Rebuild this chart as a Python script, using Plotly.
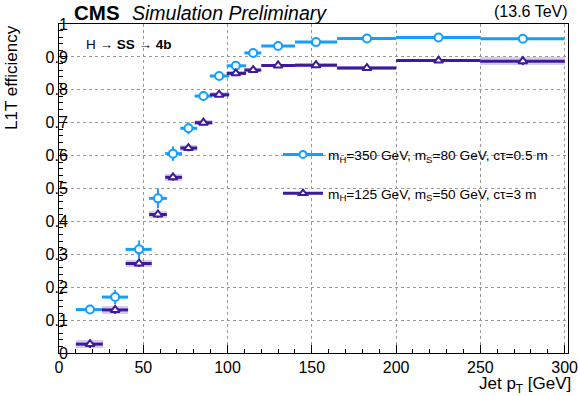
import plotly.graph_objects as go

# ---- data ----
pt_mean = [18.4, 33.3, 47.5, 58.7, 67.6, 76.8, 85.7, 95.0, 104.9, 115.2, 130.0, 152.5, 182.7, 225.2, 275.2]
bin_lo = [10, 25.5, 39.5, 53.5, 63, 72, 80.5, 89.5, 99.5, 110, 120, 140, 165, 200, 250]
bin_hi = [26, 41, 55, 64, 73, 82, 91, 101, 111, 120, 140, 165, 200, 250, 300]

eff_350 = [0.132, 0.170, 0.315, 0.470, 0.606, 0.683, 0.781, 0.842, 0.873, 0.912, 0.933, 0.945, 0.956, 0.959, 0.955]
err_350 = [0.012, 0.022, 0.027, 0.030, 0.022, 0.018, 0.013, 0.010, 0.008, 0.006, 0.005, 0.005, 0.004, 0.004, 0.004]
eff_125 = [0.027, 0.131, 0.272, 0.421, 0.534, 0.623, 0.700, 0.785, 0.850, 0.860, 0.874, 0.875, 0.866, 0.889, 0.887]
err_125 = [0.012, 0.012, 0.010, 0.010, 0.010, 0.010, 0.008, 0.007, 0.006, 0.006, 0.005, 0.005, 0.005, 0.006, 0.012]

label_350 = "m<sub>H</sub>=350 GeV, m<sub>S</sub>=80 GeV, cτ=0.5 m"
label_125 = "m<sub>H</sub>=125 GeV, m<sub>S</sub>=50 GeV, cτ=3 m"

x_ticks = [0, 50, 100, 150, 200, 250, 300]
y_ticks = [0, 0.1, 0.2, 0.3, 0.4, 0.5, 0.6, 0.7, 0.8, 0.9, 1]
y_ticklabels = ["0", "0.1", "0.2", "0.3", "0.4", "0.5", "0.6", "0.7", "0.8", "0.9", "1"]

BLUE = "#12a0ff"
PURPLE = "#3e1a9e"
FONT = "Liberation Sans, Arial, sans-serif"

W, H = 580, 396
ML, MR, MT, MB = 59, 12, 24, 43
PW = W - ML - MR
PH = H - MT - MB

def px_x(p):
    return (p - ML) / PW

def px_y(p):
    return 1 - (p - MT) / PH

fig = go.Figure()

# light uncertainty band for the 125 GeV sample
fig.add_trace(go.Bar(
    x=[(lo + hi) / 2 for lo, hi in zip(bin_lo, bin_hi)],
    width=[hi - lo for lo, hi in zip(bin_lo, bin_hi)],
    base=[e - u for e, u in zip(eff_125, err_125)],
    y=[2 * u for u in err_125],
    marker=dict(color="rgba(62,26,158,0.22)", line=dict(width=0)),
    showlegend=False, hoverinfo="skip",
))

def add_series(eff, err, color, symbol, name, lg):
    xm = [c - lo for c, lo in zip(pt_mean, bin_lo)]
    xp = [hi - c for c, hi in zip(pt_mean, bin_hi)]
    fig.add_trace(go.Scatter(
        x=pt_mean, y=eff, mode="markers", showlegend=False,
        marker=dict(symbol=symbol, size=8, color="white", line=dict(color=color, width=2)),
        error_x=dict(type="data", symmetric=False, array=xp, arrayminus=xm,
                     color=color, thickness=3, width=0),
        error_y=dict(type="data", array=err, color=color, thickness=2, width=0),
        cliponaxis=False,
    ))
    fig.add_trace(go.Scatter(
        x=[None], y=[None], mode="lines+markers", name=name, legendgroup=lg,
        line=dict(color=color, width=3),
        marker=dict(symbol=symbol, size=7, color="white", line=dict(color=color, width=2)),
    ))

add_series(eff_350, err_350, BLUE, "circle", label_350, "a")
add_series(eff_125, err_125, PURPLE, "triangle-up", label_125, "b")

axis_common = dict(
    showline=True, linecolor="black", linewidth=1, mirror=True,
    ticks="inside", ticklen=8, tickcolor="black", tickwidth=1,
    showgrid=True, gridcolor="#999999", griddash="dot", gridwidth=1,
    zeroline=False, automargin=False,
    tickfont=dict(family=FONT, size=16, color="black"),
)

fig.update_xaxes(
    range=[0, 302], tickvals=x_ticks, ticktext=[str(v) for v in x_ticks],
    minor=dict(ticks="inside", ticklen=4, dtick=10, tickcolor="black", showgrid=False),
    **axis_common,
)
fig.update_yaxes(
    range=[0, 1.0], tickvals=y_ticks, ticktext=y_ticklabels, ticklabelstandoff=-13,
    minor=dict(ticks="inside", ticklen=4, dtick=0.02, tickcolor="black", showgrid=False),
    **axis_common,
)

fig.update_layout(
    width=W, height=H,
    margin=dict(l=ML, r=MR, t=MT, b=MB),
    paper_bgcolor="white", plot_bgcolor="white",
    font=dict(family=FONT, color="black"),
    barmode="overlay", bargap=0,
    legend=dict(
        x=px_x(278), y=px_y(139), xanchor="left", yanchor="top",
        bgcolor="rgba(0,0,0,0)", borderwidth=0,
        font=dict(family=FONT, size=13.7, color="black"),
        tracegroupgap=18, traceorder="grouped", itemwidth=40,
    ),
    annotations=[
        dict(text="<b>CMS</b>", x=px_x(72), y=px_y(-1), xref="paper", yref="paper", showarrow=False,
             xanchor="left", yanchor="top", font=dict(family=FONT, size=20.5, color="black")),
        dict(text="<i>Simulation Preliminary</i>", x=px_x(130), y=px_y(0), xref="paper", yref="paper",
             showarrow=False, xanchor="left", yanchor="top",
             font=dict(family=FONT, size=19.5, color="black")),
        dict(text="(13.6 TeV)", x=px_x(570), y=px_y(1), xref="paper", yref="paper", showarrow=False,
             xanchor="right", yanchor="top", font=dict(family=FONT, size=16, color="black")),
        dict(text="H → <b>SS</b> → <b>4b</b>", x=px_x(84), y=px_y(45), xref="paper", yref="paper",
             showarrow=False, xanchor="left", yanchor="middle",
             font=dict(family=FONT, size=13.5, color="black")),
        dict(text="Jet p<sub>T</sub> [GeV]", x=px_x(573), y=px_y(372), xref="paper", yref="paper",
             showarrow=False, xanchor="right", yanchor="top",
             font=dict(family=FONT, size=17, color="black")),
        dict(text="L1T efficiency", x=px_x(0), y=px_y(23), xref="paper", yref="paper",
             showarrow=False, xanchor="left", yanchor="top", textangle=-90,
             font=dict(family=FONT, size=17, color="black")),
    ],
)

fig.write_html("out.html", config={"displayModeBar": False},
               post_script="document.body.style.margin='0';document.body.style.overflow='hidden';")
